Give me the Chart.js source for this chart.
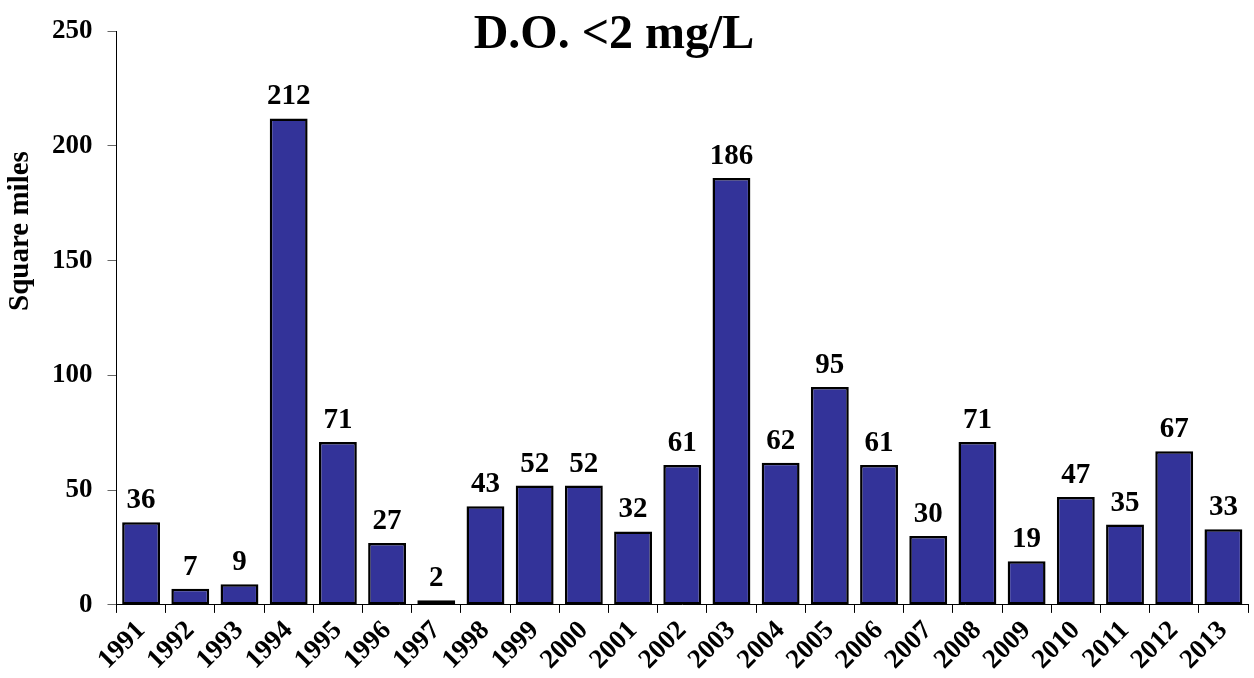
<!DOCTYPE html>
<html>
<head>
<meta charset="utf-8">
<script src="https://cdn.jsdelivr.net/npm/chart.js@4"></script>
<style>
  html, body { margin: 0; padding: 0; background: #fff; }
  #wrap { width: 1254px; height: 678px; }
</style>
</head>
<body>
<div id="wrap"><canvas id="chart" width="1254" height="678"></canvas></div>
<script>
// Chart data
const years = ['1991', '1992', '1993', '1994', '1995', '1996', '1997', '1998', '1999', '2000', '2001', '2002',
  '2003', '2004', '2005', '2006', '2007', '2008', '2009', '2010', '2011', '2012', '2013'];
const areaValues = [36, 7, 9, 212, 71, 27, 2, 43, 52, 52, 32, 61, 186, 62, 95, 61, 30, 71, 19, 47, 35, 67, 33];
const yTicks = [0, 50, 100, 150, 200, 250];
const chartTitle = 'D.O. <2 mg/L';
const yTitle = 'Square miles';

const serif = '"Liberation Serif", "Times New Roman", serif';

// Draw value labels above bars, plus title and y axis title
const labelPlugin = {
  id: 'labels',
  afterDatasetsDraw(chart) {
    const ctx = chart.ctx;
    const meta = chart.getDatasetMeta(0);
    ctx.save();
    ctx.fillStyle = '#000';
    ctx.font = 'bold 29px ' + serif;
    ctx.textAlign = 'center';
    ctx.textBaseline = 'alphabetic';
    meta.data.forEach((bar, i) => {
      ctx.fillText(areaValues[i], bar.x, bar.y - 14);
    });

    // title
    ctx.font = 'bold 48px ' + serif;
    ctx.fillText(chartTitle, 614, 48);

    // y axis title
    ctx.translate(28, 231);
    ctx.rotate(-Math.PI / 2);
    ctx.font = 'bold 29px ' + serif;
    ctx.fillText(yTitle, 0, 0);
    ctx.restore();
  }
};

new Chart(document.getElementById('chart').getContext('2d'), {
  type: 'bar',
  data: {
    labels: years,
    datasets: [{
      data: areaValues,
      backgroundColor: '#333399',
      borderColor: '#000',
      borderWidth: 2.5,
      borderSkipped: false,
      categoryPercentage: 1,
      barPercentage: 0.77
    }]
  },
  options: {
    responsive: false,
    animation: false,
    layout: { padding: { left: 37, right: 6, top: 30, bottom: 0 } },
    plugins: {
      legend: { display: false },
      title: { display: false },
      tooltip: { enabled: false }
    },
    scales: {
      x: {
        grid: { display: true, drawOnChartArea: false, drawTicks: true, tickLength: 8, color: '#000', offset: true },
        border: { display: true, color: '#000', width: 1 },
        ticks: {
          color: '#000',
          font: { family: serif, weight: 'bold', size: 27 },
          maxRotation: 45,
          minRotation: 45,
          autoSkip: false,
          padding: 2
        }
      },
      y: {
        min: 0,
        max: 250,
        afterBuildTicks(axis) {
          axis.ticks = yTicks.map(v => ({ value: v }));
        },
        grid: { display: true, drawOnChartArea: false, drawTicks: true, tickLength: 9, color: '#666' },
        border: { display: true, color: '#000', width: 1 },
        ticks: {
          color: '#000',
          font: { family: serif, weight: 'bold', size: 27 },
          padding: 15
        }
      }
    }
  },
  plugins: [labelPlugin]
});
</script>
</body>
</html>
